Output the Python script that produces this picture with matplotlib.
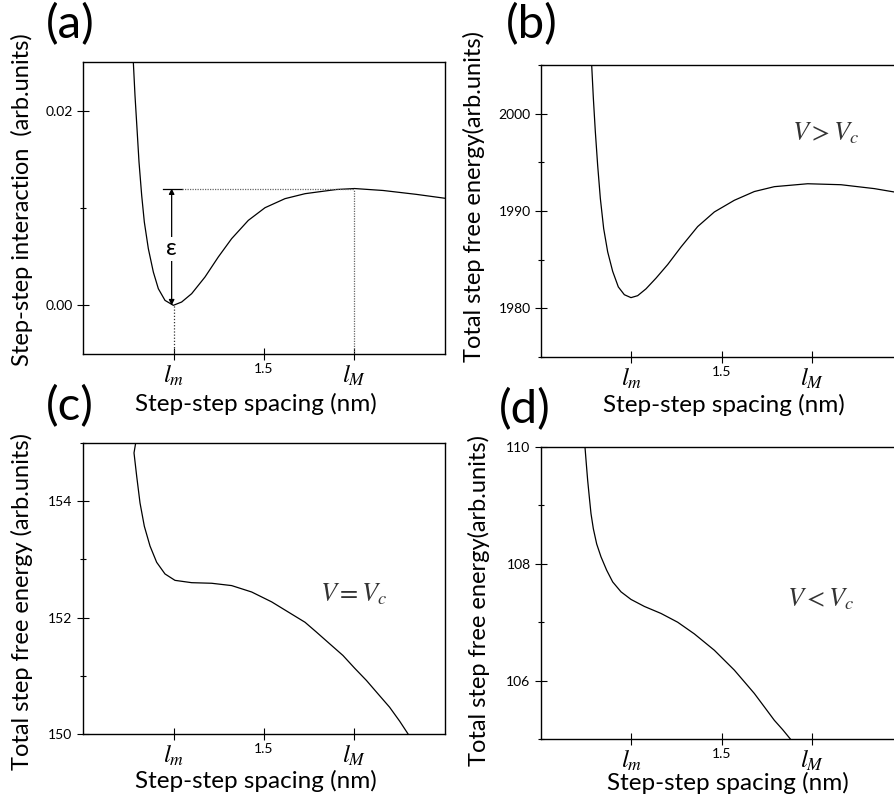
import matplotlib.pyplot as plt
from matplotlib.ticker import MultipleLocator

plt.rcParams['font.family'] = ['Lato', 'DejaVu Sans']
plt.rcParams['mathtext.fontset'] = 'stix'

# characteristic spacings (nm)
l_m = 1.25
l_M = 1.75

# (a) step-step interaction
x_a = [1.1390, 1.1436, 1.1492, 1.1547, 1.1621, 1.1694, 1.1805, 1.1943, 1.2081, 1.2265,
       1.2495, 1.2725, 1.3002, 1.3370, 1.3738, 1.4106, 1.4567, 1.5028, 1.5580, 1.6133,
       1.6450, 1.7000, 1.7500, 1.8290, 1.9210, 2.0000]
u_a = [0.02500, 0.02158, 0.01815, 0.01473, 0.01130, 0.00856, 0.00582, 0.00342, 0.00171, 0.00051,
       0.00000, 0.00034, 0.00120, 0.00291, 0.00497, 0.00685, 0.00873, 0.01003, 0.01096, 0.01147,
       0.01163, 0.01190, 0.01200, 0.01180, 0.01140, 0.01100]
eps = 0.012

# (b) total step free energy, V > Vc
x_b = [1.1400, 1.1446, 1.1500, 1.1565, 1.1639, 1.1731, 1.1842, 1.1980, 1.2136, 1.2302,
       1.2486, 1.2670, 1.2900, 1.3177, 1.3500, 1.3867, 1.4328, 1.4788, 1.5340, 1.5893,
       1.6446, 1.7366, 1.8287, 1.9208, 2.0000]
f_b = [2005.0, 2001.6, 1998.2, 1994.7, 1991.3, 1988.2, 1985.8, 1983.8, 1982.2, 1981.4,
       1981.1, 1981.3, 1982.0, 1983.1, 1984.5, 1986.3, 1988.4, 1989.9, 1991.1, 1992.0,
       1992.5, 1992.8, 1992.7, 1992.3, 1991.8]

# (c) total step free energy, V = Vc
x_c = [1.1455, 1.1409, 1.1483, 1.1575, 1.1694, 1.1851, 1.2035, 1.2265, 1.2541, 1.3002,
       1.3554, 1.4106, 1.4659, 1.5212, 1.5764, 1.6133, 1.6450, 1.6814, 1.7180, 1.7505,
       1.7830, 1.8149, 1.8470, 1.8748, 1.8980]
f_c = [155.00, 154.83, 154.43, 153.97, 153.57, 153.23, 152.95, 152.75, 152.64, 152.60,
       152.59, 152.55, 152.44, 152.27, 152.06, 151.92, 151.75, 151.55, 151.35, 151.13,
       150.92, 150.69, 150.46, 150.22, 150.00]

# (d) total step free energy, V < Vc
x_d = [1.1215, 1.1252, 1.1289, 1.1335, 1.1381, 1.1446, 1.1538, 1.1657, 1.1814, 1.1980,
       1.2210, 1.2486, 1.2855, 1.3315, 1.3775, 1.4236, 1.4512, 1.4788, 1.5064, 1.5340,
       1.5617, 1.5893, 1.6170, 1.6446, 1.6676, 1.6888]
f_d = [110.00, 109.71, 109.43, 109.14, 108.86, 108.60, 108.34, 108.12, 107.89, 107.69,
       107.52, 107.39, 107.27, 107.15, 107.00, 106.80, 106.66, 106.52, 106.35, 106.18,
       105.98, 105.78, 105.55, 105.32, 105.16, 105.00]

W, H = 895, 802


def px(x, y):
    return x / W, 1 - y / H


fig = plt.figure(figsize=(W / 100, H / 100), dpi=100)
ax_a = fig.add_axes([83 / W, 1 - 354 / H, 362 / W, 292 / H])
ax_b = fig.add_axes([541 / W, 1 - 357 / H, 362 / W, 292 / H])
ax_c = fig.add_axes([83 / W, 1 - 734 / H, 362 / W, 291 / H])
ax_d = fig.add_axes([541 / W, 1 - 739 / H, 362 / W, 292 / H])


def style(ax, ylim, major, minor, fmt):
    ax.set_xlim(1.0, 2.0)
    ax.set_ylim(*ylim)
    ax.yaxis.set_major_locator(MultipleLocator(major))
    ax.yaxis.set_minor_locator(MultipleLocator(minor))
    ax.yaxis.set_major_formatter(fmt)
    ax.tick_params(which='major', direction='inout', length=9, width=0.8,
                   labelsize=10, pad=3)
    ax.tick_params(which='minor', direction='inout', length=5, width=0.8)
    ax.tick_params(axis='x', pad=2)
    ax.set_xticks([l_m, 1.5, l_M])
    labels = ax.set_xticklabels([r'$l_m$', '1.5', r'$l_M$'])
    labels[0].set_fontsize(18)
    labels[1].set_fontsize(10)
    labels[2].set_fontsize(18)
    for s in ax.spines.values():
        s.set_linewidth(1.0)


ax_a.plot(x_a, u_a, color='k', lw=0.9)
style(ax_a, (-0.005, 0.025), 0.02, 0.01, lambda v, p: f'{v:.2f}')
ax_a.plot([1.222, 1.2725], [eps, eps], color='k', lw=0.9)
ax_a.plot([1.2725, l_M], [eps, eps], color='#666666', lw=0.9, ls=(0, (1, 1)))
ax_a.plot([l_m, l_m], [-0.005, 0], color='#333333', lw=0.9, ls=(0, (1, 1.5)))
ax_a.plot([l_M, l_M], [-0.005, eps], color='#666666', lw=0.9, ls=(0, (1, 1)))
ax_a.annotate('', xy=(1.2449, 0), xytext=(1.2449, eps),
              arrowprops=dict(arrowstyle='<|-|>', color='k', lw=0.9,
                              mutation_scale=8, shrinkA=0, shrinkB=0))
ax_a.text(1.2449, 0.0058, 'ε', fontsize=17, ha='center', va='center',
          bbox=dict(fc='white', ec='none', pad=1))

ax_b.plot(x_b, f_b, color='k', lw=0.9)
style(ax_b, (1975, 2005), 10, 5, lambda v, p: f'{v:.0f}')
ax_b.text(1.787, 1998.0, r'$V > V_c$', fontsize=19, ha='center', va='center',
          color='#333333')

ax_c.plot(x_c, f_c, color='k', lw=0.9)
style(ax_c, (150, 155), 2, 1, lambda v, p: f'{v:.0f}')
ax_c.text(1.749, 152.41, r'$V = V_c$', fontsize=19, ha='center', va='center',
          color='#333333')

ax_d.plot(x_d, f_d, color='k', lw=0.9)
style(ax_d, (105, 110), 2, 1, lambda v, p: f'{v:.0f}')
ax_d.text(1.773, 107.40, r'$V < V_c$', fontsize=19, ha='center', va='center',
          color='#333333')

# panel letters
for lab, (x, y) in zip(['(a)', '(b)', '(c)', '(d)'],
                       [(70, 25), (532, 25), (70, 407), (525, 410)]):
    fig.text(*px(x, y), lab, fontsize=34, ha='center', va='center')

# axis titles
for x, y in [(256, 404), (724, 405), (256, 781), (728, 783)]:
    fig.text(*px(x, y), 'Step-step spacing (nm)', fontsize=17.5,
             ha='center', va='center')

fig.text(*px(22, 200), 'Step-step interaction  (arb.units)', fontsize=17,
         rotation=90, ha='center', va='center')
fig.text(*px(474, 197), 'Total step free energy(arb.units)', fontsize=17,
         rotation=90, ha='center', va='center')
fig.text(*px(22, 601), 'Total step free energy (arb.units)', fontsize=17,
         rotation=90, ha='center', va='center')
fig.text(*px(479, 601), 'Total step free energy(arb.units)', fontsize=17,
         rotation=90, ha='center', va='center')

fig.savefig('out.png', dpi=100)
